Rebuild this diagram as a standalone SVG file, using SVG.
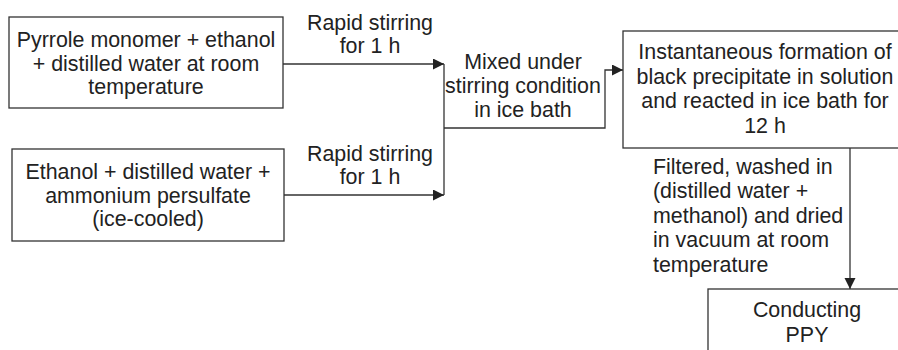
<svg xmlns="http://www.w3.org/2000/svg" width="898" height="350" viewBox="0 0 898 350">
<style>
.box{fill:#fff;stroke:#333;stroke-width:1.3}
.ln{fill:none;stroke:#333;stroke-width:1.3}
text{font-family:"Liberation Sans",Arial,sans-serif;font-size:21.4px;fill:#222}
.c{text-anchor:middle}
</style>
<defs>
<marker id="ah" markerUnits="userSpaceOnUse" markerWidth="12" markerHeight="12" refX="11" refY="5.5" orient="auto">
<path d="M0,0 L11,5.5 L0,11 Z" fill="#222"/>
</marker>
</defs>
<rect width="898" height="350" fill="#fff"/>
<g id="connectors">
<line class="ln" x1="283" y1="64" x2="444" y2="64" marker-end="url(#ah)"/>
<line class="ln" x1="284" y1="195" x2="444" y2="195" marker-end="url(#ah)"/>
<line class="ln" x1="444" y1="64" x2="444" y2="195"/>
<polyline class="ln" points="444,128 605,128 605,70 623,70" marker-end="url(#ah)"/>
<line class="ln" x1="850" y1="148" x2="850" y2="289" marker-end="url(#ah)"/>
<text class="c" x="370" y="30">Rapid stirring</text>
<text class="c" x="370" y="53">for 1 h</text>
<text class="c" x="370" y="161">Rapid stirring</text>
<text class="c" x="370" y="184">for 1 h</text>
<text class="c" x="523" y="69">Mixed under</text>
<text class="c" x="523" y="93">stirring condition</text>
<text class="c" x="523" y="117">in ice bath</text>
<text x="653" y="174">Filtered, washed in</text>
<text x="653" y="198">(distilled water +</text>
<text x="653" y="223">methanol) and dried</text>
<text x="653" y="247">in vacuum at room</text>
<text x="653" y="272">temperature</text>
</g>
<g id="pyrrole">
<rect class="box" x="9" y="17" width="274" height="91"/>
<text class="c" x="146" y="47">Pyrrole monomer + ethanol</text>
<text class="c" x="146" y="70.5">+ distilled water at room</text>
<text class="c" x="146" y="94">temperature</text>
</g>
<g id="ethanol">
<rect class="box" x="12" y="149" width="272" height="92"/>
<text class="c" x="148" y="179">Ethanol + distilled water +</text>
<text class="c" x="148" y="202.5">ammonium persulfate</text>
<text class="c" x="148" y="226">(ice-cooled)</text>
</g>
<g id="precipitate">
<rect class="box" x="623" y="31" width="290" height="117"/>
<text class="c" x="765" y="59">Instantaneous formation of</text>
<text class="c" x="765" y="83.5">black precipitate in solution</text>
<text class="c" x="765" y="108">and reacted in ice bath for</text>
<text class="c" x="765" y="132.5">12 h</text>
</g>
<g id="ppy">
<rect class="box" x="708" y="289" width="200" height="80"/>
<text class="c" x="807" y="317">Conducting</text>
<text class="c" x="807" y="342">PPY</text>
</g>
</svg>
